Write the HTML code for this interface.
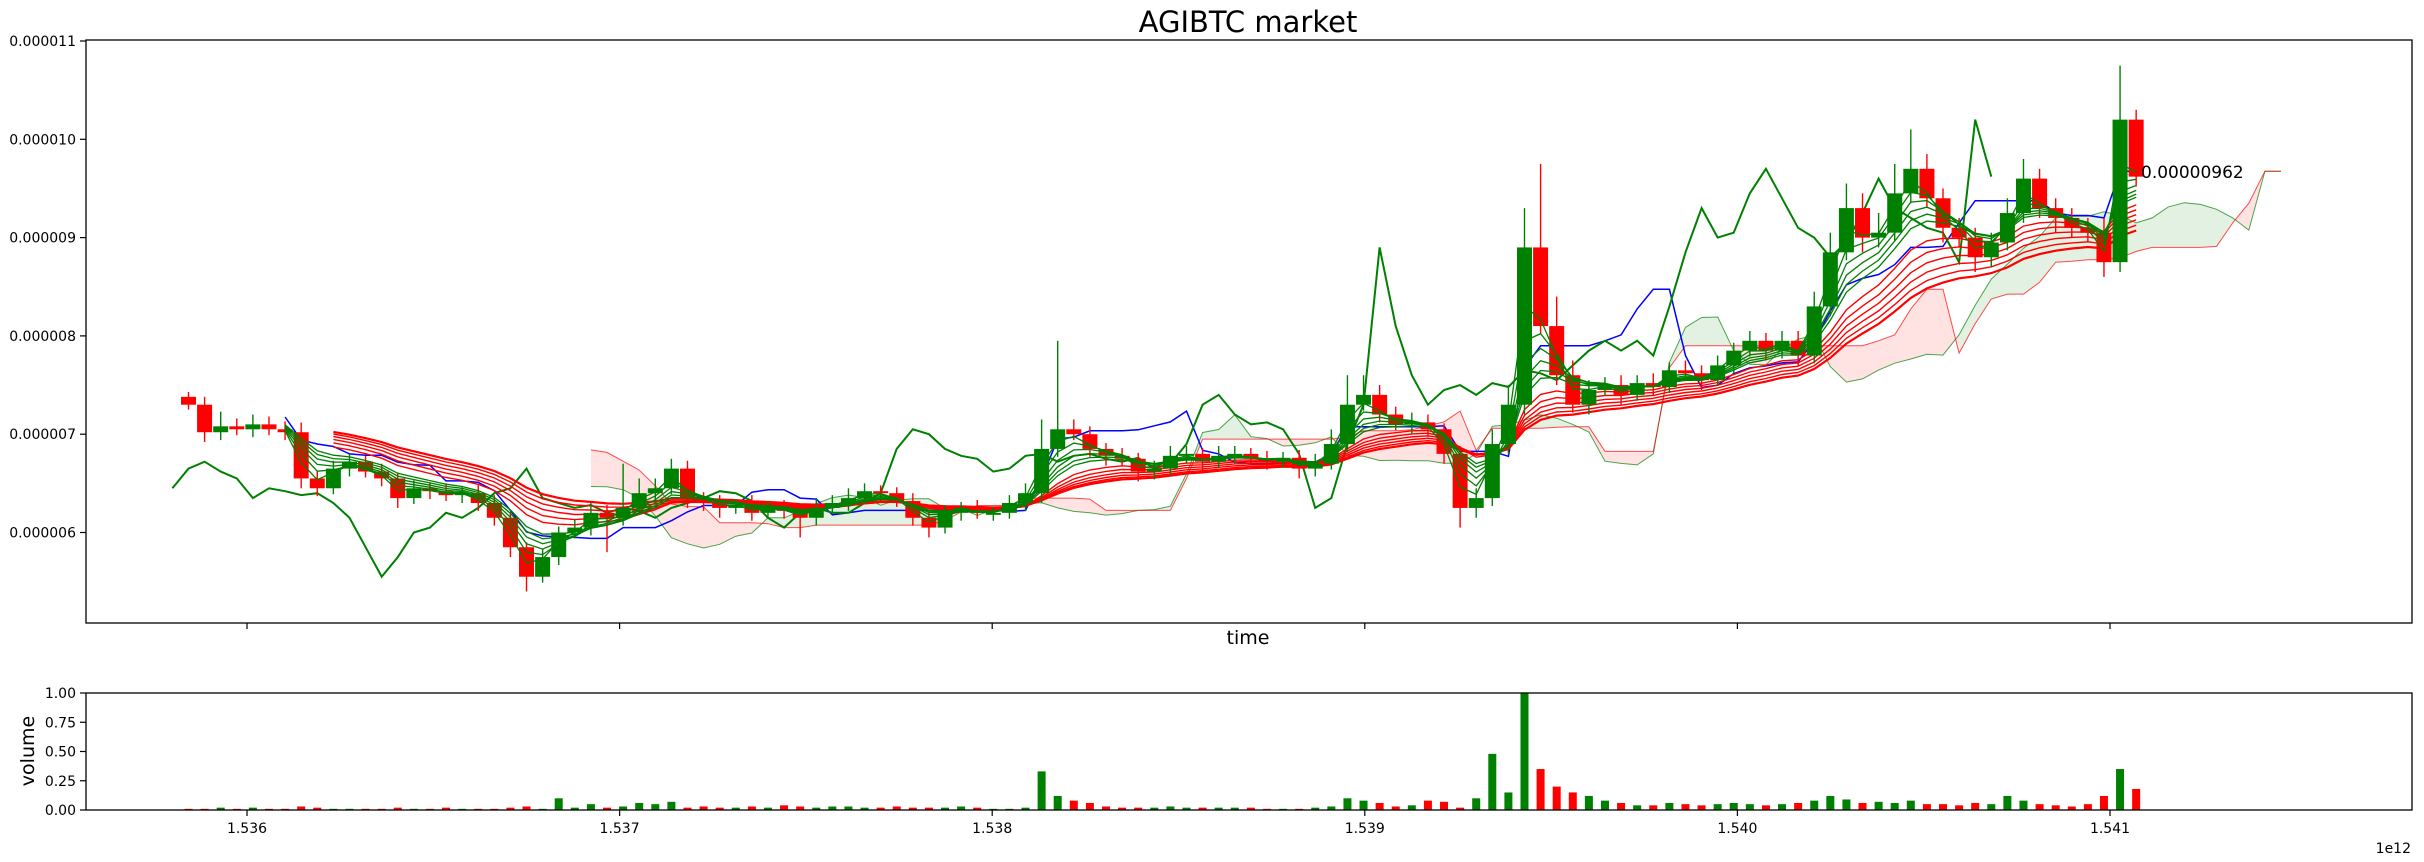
<!DOCTYPE html>
<html><head><meta charset="utf-8">
<style>
html,body{margin:0;padding:0;background:#fff;}
svg{display:block;font-family:"DejaVu Sans","Liberation Sans",sans-serif;}
</style></head>
<body>
<svg id="chart" width="2424" height="862" viewBox="0 0 2424 862" xmlns="http://www.w3.org/2000/svg">
<defs>
<clipPath id="mainClip"><rect x="86" y="40" width="2326" height="583"/></clipPath>
<clipPath id="volClip"><rect x="86" y="693" width="2326" height="117"/></clipPath>
</defs>
<rect x="0" y="0" width="2424" height="862" fill="#fff"/>
<text x="1248" y="32" font-size="29" text-anchor="middle">AGIBTC market</text>
<g id="mainPlot" clip-path="url(#mainClip)"></g>
<g id="volPlot" clip-path="url(#volClip)"></g>
<g id="axes"></g>
<rect x="86" y="40" width="2326" height="583" fill="none" stroke="#000" stroke-width="1.3"/>
<rect x="86" y="693" width="2326" height="117" fill="none" stroke="#000" stroke-width="1.3"/>
<text x="1248" y="644" font-size="19" text-anchor="middle">time</text>
<text x="0" y="0" font-size="19" text-anchor="middle" transform="translate(34,751) rotate(-90)">volume</text>
<text x="2411" y="853" font-size="14" text-anchor="end">1e12</text>
<text x="2141" y="178" font-size="17">0.00000962</text>
</svg>
<script>
const closes=[7.30,7.02,7.08,7.05,7.10,7.05,7.02,6.55,6.45,6.65,
6.72,6.62,6.55,6.35,6.45,6.42,6.38,6.40,6.30,6.15,
5.85,5.55,5.75,6.00,6.05,6.20,6.15,6.25,6.40,6.45,
6.65,6.35,6.30,6.25,6.28,6.20,6.25,6.22,6.15,6.25,
6.30,6.35,6.42,6.40,6.32,6.15,6.05,6.20,6.25,6.20,
6.20,6.30,6.40,6.85,7.05,7.00,6.85,6.78,6.75,6.62,
6.65,6.78,6.80,6.72,6.78,6.80,6.75,6.72,6.76,6.65,
6.70,6.90,7.30,7.40,7.20,7.10,7.12,7.05,6.80,6.25,
6.35,6.90,7.30,8.90,8.10,7.60,7.30,7.45,7.50,7.40,
7.52,7.48,7.65,7.62,7.55,7.70,7.85,7.95,7.85,7.95,
7.80,8.30,8.85,9.30,9.00,9.05,9.45,9.70,9.40,9.10,
9.00,8.80,8.95,9.25,9.60,9.30,9.20,9.10,9.05,8.75,
10.20,9.62];
const firstOpen=7.38;
const upWick=[0.05,0.08,0.15,0.08,0.10,0.08,0.08,0.10,0.08,0.08,
0.08,0.06,0.08,0.06,0.08,0.06,0.08,0.06,0.08,0.08,
0.06,0.05,0.08,0.06,0.08,0.10,0.08,0.45,0.15,0.10,
0.10,0.08,0.06,0.08,0.06,0.10,0.06,0.08,0.06,0.10,
0.08,0.10,0.08,0.06,0.06,0.08,0.06,0.08,0.06,0.08,
0.06,0.08,0.10,0.30,0.90,0.10,0.08,0.06,0.08,0.06,
0.08,0.10,0.08,0.06,0.10,0.08,0.06,0.08,0.06,0.08,
0.10,0.15,0.30,0.20,0.10,0.08,0.10,0.08,0.06,0.08,
0.10,0.15,0.20,0.40,0.85,0.30,0.15,0.10,0.08,0.10,
0.08,0.10,0.08,0.10,0.08,0.10,0.08,0.10,0.08,0.10,
0.10,0.15,0.20,0.25,0.15,0.20,0.30,0.40,0.15,0.10,
0.10,0.10,0.10,0.15,0.20,0.10,0.10,0.10,0.10,0.15,
0.55,0.10];
const dnWick=[0.05,0.10,0.08,0.06,0.08,0.06,0.08,0.10,0.08,0.06,
0.08,0.06,0.08,0.10,0.06,0.08,0.06,0.08,0.08,0.08,
0.10,0.15,0.06,0.08,0.06,0.08,0.35,0.08,0.06,0.08,
0.06,0.10,0.08,0.10,0.06,0.08,0.06,0.08,0.20,0.08,
0.06,0.08,0.06,0.08,0.06,0.08,0.10,0.06,0.08,0.06,
0.08,0.06,0.08,0.10,0.08,0.06,0.08,0.10,0.08,0.10,
0.08,0.06,0.08,0.10,0.06,0.08,0.06,0.08,0.06,0.10,
0.08,0.06,0.08,0.06,0.08,0.06,0.10,0.08,0.10,0.20,
0.10,0.08,0.10,0.10,0.08,0.10,0.08,0.10,0.06,0.10,
0.06,0.08,0.06,0.08,0.10,0.06,0.08,0.06,0.10,0.08,
0.10,0.08,0.10,0.08,0.15,0.10,0.08,0.10,0.10,0.15,
0.10,0.15,0.10,0.08,0.10,0.10,0.15,0.10,0.10,0.15,
0.10,0.10];
const volumes=[0.01,0.01,0.02,0.01,0.02,0.01,0.01,0.03,0.02,0.01,
0.01,0.01,0.01,0.02,0.01,0.01,0.02,0.01,0.01,0.01,
0.02,0.03,0.01,0.10,0.02,0.05,0.02,0.03,0.06,0.05,
0.07,0.02,0.03,0.02,0.02,0.03,0.02,0.04,0.03,0.02,
0.03,0.03,0.02,0.02,0.03,0.02,0.02,0.02,0.03,0.02,
0.01,0.01,0.02,0.33,0.12,0.08,0.06,0.03,0.02,0.02,
0.02,0.03,0.02,0.02,0.02,0.02,0.02,0.01,0.01,0.01,
0.02,0.03,0.10,0.08,0.06,0.03,0.04,0.08,0.07,0.02,
0.10,0.48,0.15,1.00,0.35,0.20,0.15,0.12,0.08,0.06,
0.04,0.04,0.06,0.05,0.04,0.05,0.06,0.05,0.04,0.05,
0.06,0.08,0.12,0.09,0.06,0.07,0.06,0.08,0.05,0.05,
0.04,0.06,0.05,0.12,0.08,0.05,0.04,0.03,0.05,0.12,
0.35,0.18];
const startTime=1.535843;
const stepTime=0.0000432;
const priceTicks=[6,7,8,9,10,11];
const priceTickLabels=["0.000006","0.000007","0.000008","0.000009","0.000010","0.000011"];
const timeTicks=[1.536,1.537,1.538,1.539,1.540,1.541];
const timeTickLabels=["1.536","1.537","1.538","1.539","1.540","1.541"];
const volTicks=[0,0.25,0.5,0.75,1.0];
const volTickLabels=["0.00","0.25","0.50","0.75","1.00"];

const NS="http://www.w3.org/2000/svg";
function xOf(t){return 247+(t-1.536)/0.001*372.6;}
function yOf(p){return 139.3+(10-p)*98.3;}
function vOf(v){return 810-v*117;}
function mk(tag,attrs,parent){const e=document.createElementNS(NS,tag);for(const k in attrs)e.setAttribute(k,attrs[k]);parent.appendChild(e);return e;}
const main=document.getElementById('mainPlot');
const vol=document.getElementById('volPlot');
const axes=document.getElementById('axes');
const n=closes.length;
const opens=closes.map((c,i)=>i===0?firstOpen:closes[i-1]);
const highs=closes.map((c,i)=>Math.max(c,opens[i])+upWick[i]);
const lows=closes.map((c,i)=>Math.min(c,opens[i])-dnWick[i]);
const times=closes.map((c,i)=>startTime+i*stepTime);
const GREEN="#008000",RED="#ff0000";

function ema(arr,span){const a=2/(span+1);const out=[];let v=arr[0];for(let i=0;i<arr.length;i++){v=i===0?arr[0]:a*arr[i]+(1-a)*v;out.push(v);}return out;}
function mid(p,i){let hi=-1e9,lo=1e9;for(let k=Math.max(0,i-p+1);k<=i;k++){hi=Math.max(hi,highs[k]);lo=Math.min(lo,lows[k]);}return (hi+lo)/2;}
function poly(pts,color,w,name,op){
  if(pts.length<2)return;
  const p=mk('polyline',{points:pts.map(q=>q[0].toFixed(1)+','+q[1].toFixed(1)).join(' '),fill:'none',stroke:color,'stroke-width':w,'stroke-opacity':op||1},main);
  
  
}
const shift=9;
const tenkan=closes.map((c,i)=>mid(3,i));
const kijun=closes.map((c,i)=>mid(9,i));
const spanA=[],spanB=[];
for(let i=16;i<n;i++){spanA.push([times[i]+shift*stepTime,(tenkan[i]+kijun[i])/2]);spanB.push([times[i]+shift*stepTime,mid(17,i)]);}
for(let k=0;k<spanA.length-1;k++){
  const a0=spanA[k],a1=spanA[k+1],b0=spanB[k],b1=spanB[k+1];
  const up=(a0[1]+a1[1])>=(b0[1]+b1[1]);
  const pg=mk('polygon',{points:[[xOf(a0[0]),yOf(a0[1])],[xOf(a1[0]),yOf(a1[1])],[xOf(b1[0]),yOf(b1[1])],[xOf(b0[0]),yOf(b0[1])]].map(q=>q[0].toFixed(1)+','+q[1].toFixed(1)).join(' '),fill:up?'rgba(0,128,0,0.11)':'rgba(255,0,0,0.11)',stroke:'none'},main);
  
  
}
poly(spanA.map(q=>[xOf(q[0]),yOf(q[1])]),GREEN,1,'senkou-span-a',0.7);
poly(spanB.map(q=>[xOf(q[0]),yOf(q[1])]),RED,1,'senkou-span-b',0.7);
poly(closes.map((c,i)=>[xOf(times[i]),yOf(kijun[i])]).slice(6),'#0000ff',1.5,'kijun-line');
poly(closes.map((c,i)=>[xOf(times[i]-shift*stepTime),yOf(c)]).slice(shift-1),GREEN,2,'chikou-line');
[10,12,14,16,18,20].forEach((s,j)=>{const e=ema(closes,s);poly(e.map((v,i)=>[xOf(times[i]),yOf(v)]).slice(9),RED,j===5?2.2:1.4,'long-ema-'+s);});
for(let i=0;i<n;i++){
  const x=xOf(times[i]);const col=closes[i]>=opens[i]?GREEN:RED;
  const w=mk('line',{x1:x,x2:x,y1:yOf(highs[i]),y2:yOf(lows[i]),stroke:col,'stroke-width':1.4},main);
  
  
  const top=yOf(Math.max(opens[i],closes[i])),bot=yOf(Math.min(opens[i],closes[i]));
  const b=mk('rect',{x:x-7.5,y:top,width:15,height:Math.max(2,bot-top),fill:col},main);
  
  
}
[2,3,4,5,6,7].forEach(s=>{const e=ema(closes,s);poly(e.map((v,i)=>[xOf(times[i]),yOf(v)]).slice(6),GREEN,1.3,'short-ema-'+s);});
for(let i=0;i<n;i++){
  const x=xOf(times[i]);const col=closes[i]>=opens[i]?GREEN:RED;
  const r=mk('rect',{x:x-4,y:vOf(volumes[i]),width:8,height:810-vOf(volumes[i]),fill:col},vol);
  
  
}
priceTicks.forEach((p,k)=>{
  const y=yOf(p);
  const t=mk('line',{x1:80,x2:86,y1:y,y2:y,stroke:'#000','stroke-width':1.2},axes);
  
  
  const l=mk('text',{x:76,y:y+5,'font-size':14,'text-anchor':'end'},axes);l.textContent=priceTickLabels[k];
  
  
});
volTicks.forEach((v,k)=>{
  const y=vOf(v);
  const t=mk('line',{x1:80,x2:86,y1:y,y2:y,stroke:'#000','stroke-width':1.2},axes);
  
  
  const l=mk('text',{x:76,y:y+5,'font-size':14,'text-anchor':'end'},axes);l.textContent=volTickLabels[k];
  
  
});
timeTicks.forEach((tv,k)=>{
  const x=xOf(tv);
  const t1=mk('line',{x1:x,x2:x,y1:623,y2:629,stroke:'#000','stroke-width':1.2},axes);
  
  
  const t2=mk('line',{x1:x,x2:x,y1:810,y2:816,stroke:'#000','stroke-width':1.2},axes);
  
  
  const l=mk('text',{x:x,y:833,'font-size':14,'text-anchor':'middle'},axes);l.textContent=timeTickLabels[k];
  
  
});
</script>
</body></html>
